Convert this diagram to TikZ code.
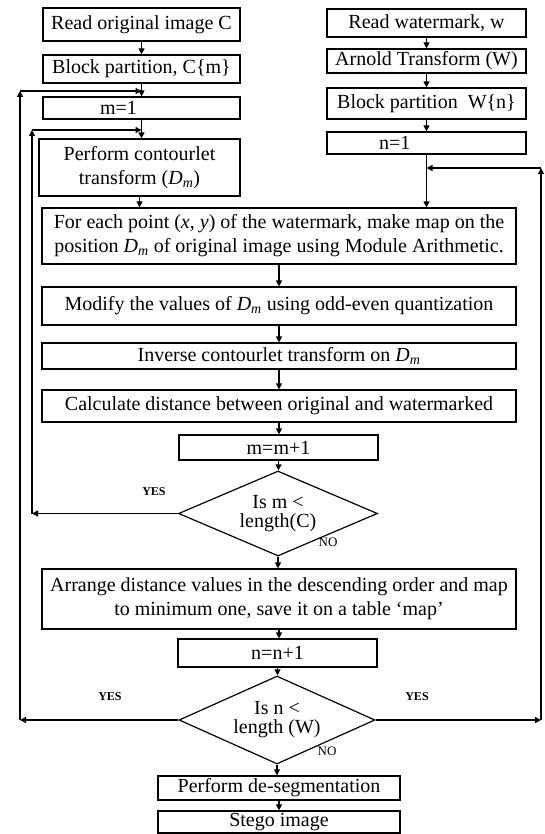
\documentclass[tikz,border=0pt]{standalone}
\usepackage{fontspec}
\setmainfont{Liberation Serif}
\usetikzlibrary{arrows.meta,shapes.geometric}
\newcommand{\DmSym}{\textit{D}\textsubscript{\textit{m}}}
\begin{document}
\begin{tikzpicture}[x=1pt,y=-1pt,
  every node/.style={inner sep=1pt},
  box/.style={draw, line width=1.2pt, align=center, font=\fontsize{20}{24}\selectfont},
  dia/.style={draw, line width=1.2pt, diamond, inner sep=0pt},
  dtext/.style={align=center, font=\fontsize{20}{19}\selectfont},
  arr/.style={line width=1.2pt, -{Triangle[length=6pt,width=6pt]}},
  yeslbl/.style={font=\fontsize{12}{12}\selectfont\bfseries},
  nolbl/.style={font=\fontsize{13}{13}\selectfont}]
\useasboundingbox (0,0) rectangle (544,834);
% left column
\node[box, minimum width=197pt, minimum height=33pt] (b1) at (141.5,24.5) {Read original image C};
\node[box, minimum width=197pt, minimum height=28pt] (b2) at (141.5,69) {Block partition, C\{m\}};
\node[box, minimum width=197pt, minimum height=22pt, text width=193pt, align=left] (b3) at (141.5,108) {\hspace*{55pt}m=1};
\node[box, minimum width=201pt, minimum height=57pt] (b4) at (139.5,167.5) {Perform contourlet\\transform (\DmSym)};
% right column
\node[box, minimum width=199pt, minimum height=28pt] (r1) at (426.5,23) {Read watermark, w};
\node[box, minimum width=199pt, minimum height=24pt] (r2) at (426.5,61) {Arnold Transform (W)};
\node[box, minimum width=199pt, minimum height=31pt] (r3) at (426.5,103.5) {Block partition\ \ W\{n\}};
\node[box, minimum width=199pt, minimum height=22pt, text width=195pt, align=left] (r4) at (426.5,143) {\hspace*{50pt}n=1};
% main column
\node[box, minimum width=474pt, minimum height=56pt] (b5) at (279,236) {For each point (\textit{x}, \textit{y}) of the watermark, make map on the\\position \DmSym\ of original image using Module Arithmetic.};
\node[box, minimum width=474pt, minimum height=38pt] (b6) at (279,306) {Modify the values of \DmSym\ using odd-even quantization};
\node[box, minimum width=474pt, minimum height=26pt] (b7) at (279,356) {Inverse contourlet transform on \DmSym};
\node[box, minimum width=474pt, minimum height=32pt] (b8) at (279,406) {Calculate distance between original and watermarked};
\node[box, minimum width=199pt, minimum height=25pt] (b9) at (278.5,447.5) {m=m+1};
\node[dia, minimum width=199pt, minimum height=85pt,
  label={[dtext]center:Is m <\\length(C)}] (d1) at (278,513.5) {};
\node[box, minimum width=474pt, minimum height=60pt] (b10) at (279,599) {Arrange distance values in the descending order and map\\to minimum one, save it on a table `map'};
\node[box, minimum width=199pt, minimum height=28pt] (b11) at (277.5,653) {n=n+1};
\node[dia, minimum width=196pt, minimum height=88pt,
  label={[dtext]center:Is n <\\length (W)}] (d2) at (277,720) {};
\node[box, minimum width=242pt, minimum height=24pt] (b12) at (279,788) {Perform de-segmentation};
\node[box, minimum width=242pt, minimum height=22pt] (b13) at (279,822) {Stego image};
% labels
\node[yeslbl] (y1) at (154,492) {YES};
\node[nolbl] (n1) at (328,542) {NO};
\node[yeslbl] (y2) at (110,697) {YES};
\node[yeslbl] (y3) at (417,697) {YES};
\node[nolbl] (n2) at (327,751) {NO};
% straight connectors
\draw[arr] (b1.south) -- (b1.south |- b2.north);
\draw[arr] (b2.south) -- (b2.south |- b3.north);
\draw[arr] (b3.south) -- (b3.south |- b4.north);
\draw[arr] (b4.south) -- (b4.south |- b5.north);
\draw[arr] (r1.south) -- (r1.south |- r2.north);
\draw[arr] (r2.south) -- (r2.south |- r3.north);
\draw[arr] (r3.south) -- (r3.south |- r4.north);
\draw[arr] (r4.south) -- (r4.south |- b5.north);
\draw[arr] (b5.south) -- (b5.south |- b6.north);
\draw[arr] (b6.south) -- (b6.south |- b7.north);
\draw[arr] (b7.south) -- (b7.south |- b8.north);
\draw[arr] (b8.south) -- (b8.south |- b9.north);
\draw[arr] (b9.south) -- (b9.south |- d1.north);
\draw[arr] (d1.south) -- (d1.south |- b10.north);
\draw[arr] (b10.south) -- (b10.south |- b11.north);
\draw[arr] (b11.south) -- (b11.south |- d2.north);
\draw[arr] (d2.south) -- (d2.south |- b12.north);
\draw[arr] (b12.south) -- (b12.south |- b13.north);
% inner loop (m)
\coordinate (iL) at (32,513.5);
\coordinate (iT) at (32,130);
\draw[arr] (d1.west) -- (iL);
\draw[arr] (iL) -- (iT);
\draw[arr] (iT) -- (iT -| b3.south);
% outer loop (n, left)
\coordinate (oL) at (20,720);
\coordinate (oT) at (20,91);
\draw[arr] (d2.west) -- (oL);
\draw[arr] (oL) -- (oT);
\draw[arr] (oT) -- (oT -| b2.south);
% right loop
\coordinate (rB) at (541,720);
\coordinate (rT) at (541,168);
\draw[arr] (d2.east) -- (rB);
\draw[arr] (rB) -- (rT);
\draw[arr] (rT) -- (rT -| r4.south);
\end{tikzpicture}
\end{document}
